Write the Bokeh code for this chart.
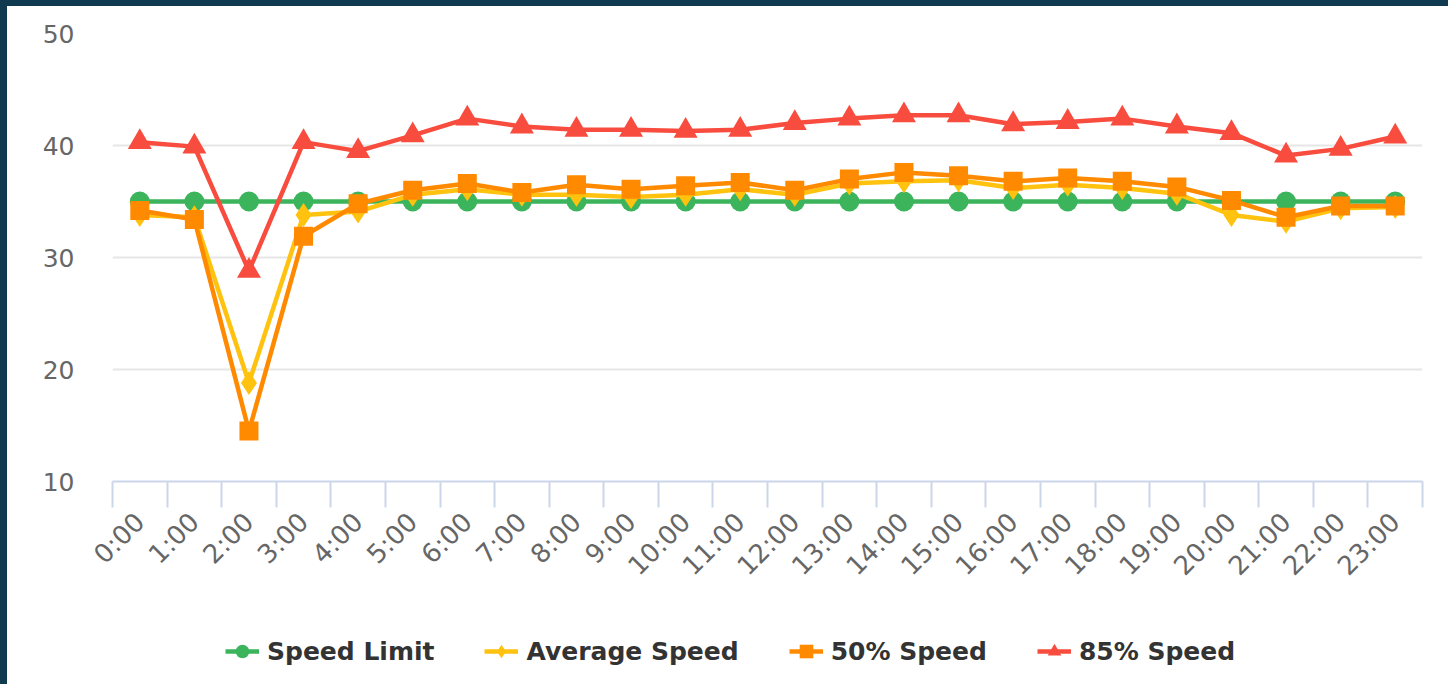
import numpy as np
from bokeh.plotting import figure
from bokeh.layouts import column
from bokeh.models import FixedTicker, Legend, LegendItem, Range1d
from bokeh.embed import file_html
from bokeh.resources import INLINE

hours = [f"{h}:00" for h in range(24)]
speed_limit = [35] * 24
average_speed = [33.8, 33.6, 18.8, 33.8, 34.1, 35.6, 36.1, 35.6, 35.6, 35.4, 35.6, 36.1,
                 35.6, 36.6, 36.8, 36.9, 36.2, 36.5, 36.2, 35.7, 33.8, 33.2, 34.4, 34.5]
speed_50 = [34.2, 33.4, 14.5, 31.9, 34.8, 36.0, 36.6, 35.8, 36.5, 36.1, 36.4, 36.7,
            36.0, 37.0, 37.6, 37.3, 36.8, 37.1, 36.8, 36.3, 35.1, 33.6, 34.6, 34.6]
speed_85 = [40.3, 39.9, 28.8, 40.3, 39.5, 40.9, 42.4, 41.7, 41.4, 41.4, 41.3, 41.4,
            42.0, 42.4, 42.7, 42.7, 41.9, 42.1, 42.4, 41.7, 41.1, 39.1, 39.7, 40.8]
y_ticks = [10, 20, 30, 40, 50]

FONT = "DejaVu Sans"
NAVY = "#103a50"
x = list(range(len(hours)))

p = figure(frame_width=1303, frame_height=442, output_backend="svg", toolbar_location=None,
           x_range=Range1d(-0.5, len(hours) - 0.5), y_range=Range1d(10, 50),
           min_border_left=105, min_border_right=33, min_border_top=27, min_border_bottom=150)
p.frame_align = False
p.styles = {"border-top": f"6px solid {NAVY}", "border-left": f"7px solid {NAVY}"}
p.outline_line_color = None
p.background_fill_color = "white"
p.border_fill_color = "white"

p.xgrid.grid_line_color = None
p.ygrid.grid_line_color = "#e6e6e6"
p.ygrid.grid_line_width = 2
p.ygrid.ticker = FixedTicker(ticks=y_ticks)

yax = p.yaxis[0]
yax.ticker = FixedTicker(ticks=y_ticks)
yax.axis_line_color = None
yax.major_tick_line_color = None
yax.minor_tick_line_color = None
yax.major_label_text_font = FONT
yax.major_label_text_font_size = "25px"
yax.major_label_text_color = "#666666"
yax.major_label_standoff = 32

xax = p.xaxis[0]
xax.ticker = FixedTicker(ticks=x, minor_ticks=[i - 0.5 for i in range(len(hours) + 1)])
xax.major_label_overrides = {i: h for i, h in zip(x, hours)}
xax.axis_line_color = "#ccd6eb"
xax.axis_line_width = 2
xax.major_tick_out = 0
xax.major_tick_in = 0
xax.major_tick_line_color = None
xax.minor_tick_out = 26
xax.minor_tick_in = 0
xax.minor_tick_line_color = "#ccd6eb"
xax.minor_tick_line_width = 2
xax.major_label_orientation = np.pi / 4
xax.major_label_text_font = FONT
xax.major_label_text_font_size = "26px"
xax.major_label_text_color = "#666666"
xax.major_label_standoff = 10

series = [
    ("Speed Limit", speed_limit, "#3bb45c", "circle", 20),
    ("Average Speed", average_speed, "#ffc20e", "diamond", 24),
    ("50% Speed", speed_50, "#ff8a00", "square", 19),
    ("85% Speed", speed_85, "#f84c3e", "triangle", 24),
]

for name, vals, col, marker, size in series:
    p.line(x, vals, line_color=col, line_width=4.5)
    p.scatter(x, vals, marker=marker, size=size, fill_color=col, line_color=col, line_width=0)

# Legend strip below the chart (same glyph styles, data kept outside its view)
lp = figure(width=1448, height=59, output_backend="svg", toolbar_location=None,
            x_range=Range1d(0, 1), y_range=Range1d(0, 1), x_axis_type=None, y_axis_type=None,
            min_border=0)
lp.frame_align = False
lp.styles = {"border-left": f"7px solid {NAVY}"}
lp.outline_line_color = None
lp.grid.grid_line_color = None
lp.background_fill_color = "white"
lp.border_fill_color = "white"

items = []
for name, vals, col, marker, size in series:
    lr = lp.line([5, 6], [5, 5], line_color=col, line_width=4.5)
    sr = lp.scatter([5], [5], marker=marker, size=size, fill_color=col, line_color=col, line_width=0)
    items.append(LegendItem(label=name, renderers=[lr, sr]))

legend = Legend(items=items, orientation="horizontal", location=(218, 13),
                label_text_font=FONT, label_text_font_style="bold",
                label_text_font_size="25px", label_text_color="#333333",
                glyph_width=34, glyph_height=40, label_standoff=8, spacing=50,
                border_line_color=None, background_fill_alpha=0,
                margin=0, padding=0)
lp.add_layout(legend)

layout = column(p, lp, spacing=0)
open("out.html", "w").write(file_html(layout, INLINE))
